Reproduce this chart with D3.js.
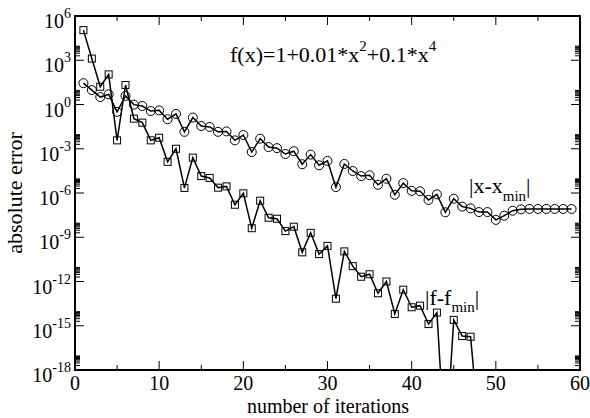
<!DOCTYPE html>
<html>
<head>
<meta charset="utf-8">
<script src="https://cdn.jsdelivr.net/npm/d3@7"></script>
<style>
  body { margin: 0; background: #fff; }
  svg { display: block; }
  text { font-family: 'Liberation Serif', 'Times New Roman', Times, 'DejaVu Serif', serif; fill: #000; }
</style>
</head>
<body>
<svg id="chart" width="590" height="418"></svg>
<script>
// iteration numbers
const iterX = [1, 2, 3, 4, 5, 6, 7, 8, 9, 10, 11, 12, 13, 14, 15, 16, 17, 18, 19, 20,
  21, 22, 23, 24, 25, 26, 27, 28, 29, 30, 31, 32, 33, 34, 35, 36, 37, 38, 39, 40,
  41, 42, 43, 44, 45, 46, 47, 48, 49, 50, 51, 52, 53, 54, 55, 56, 57, 58, 59];
const iterF = iterX.slice(0, 48);

// |x - x_min|
const errX = [28, 9.5, 3.2, 4.9, 0.32, 3.8, 0.98, 0.79, 0.36, 0.4,
  0.1, 0.23, 0.014, 0.13, 0.035, 0.03, 0.014, 0.015, 3.7e-3, 8.5e-3,
  6e-4, 4.8e-3, 1.3e-3, 1.1e-3, 4.4e-4, 6.8e-4, 8.9e-5, 4e-4, 7.6e-5, 1.5e-4,
  2.5e-6, 9.3e-5, 3.1e-5, 1.4e-5, 1.6e-5, 3.6e-6, 9.3e-6, 7.6e-7, 4.7e-6, 1.4e-6,
  1.3e-6, 3.4e-7, 8.1e-7, 4.9e-8, 4.1e-7, 1.2e-7, 9.1e-8, 5.1e-8, 5.1e-8, 1.5e-8,
  2.9e-8, 6.3e-8, 7.8e-8, 8.3e-8, 8.3e-8, 8.3e-8, 8.3e-8, 8.3e-8, 8.3e-8];

// |f - f_min|
const errF = [1.1e5, 1.3e3, 16, 110, 3.7e-3, 21, 0.11, 0.059, 3.7e-3, 5.6e-3,
  1.3e-4, 1e-3, 2.2e-6, 2.5e-4, 1.4e-5, 1.05e-5, 2.3e-6, 2.8e-6, 1.6e-7, 9.5e-7,
  4.1e-9, 3e-7, 2.1e-8, 1.8e-8, 2.6e-9, 5.2e-9, 9.5e-11, 2e-9, 7.2e-11, 2.6e-10,
  6.8e-14, 1.1e-10, 1.1e-11, 2.1e-12, 3.1e-12, 1.6e-13, 1e-12, 6.3e-15, 2.8e-13, 1.8e-14,
  2.3e-14, 1.3e-15, 7.8e-15, 3e-24, 2.5e-15, 2e-16, 1.8e-16, 1e-22];

const xTicks = [0, 10, 20, 30, 40, 50, 60];
const xMinor = [5, 15, 25, 35, 45, 55];
const yExps  = [6, 3, 0, -3, -6, -9, -12, -15, -18];

const svg = d3.select('#chart');
const m = { left: 75, right: 580, top: 16, bottom: 370 };

const x = d3.scaleLinear().domain([0, 60]).range([m.left, m.right]);
const y = d3.scaleLog().domain([1e-18, 1e6]).range([m.bottom, m.top]);

// minor log ticks 2..9 above each major
const yMinor = yExps.flatMap((e) => [2, 3, 4, 5, 6, 7, 8, 9].map((k) => k * Math.pow(10, e)))
  .filter((v) => v < 1e6);

svg.append('clipPath')
    .attr('id', 'plot-clip')
  .append('rect')
    .attr('x', m.left)
    .attr('y', m.top)
    .attr('width', m.right - m.left)
    .attr('height', m.bottom - m.top);

// tick marks, all pointing inward
const ticks = svg.append('g')
    .attr('stroke', '#000')
    .attr('stroke-width', 1);

const xTickData = xTicks.map((v) => [v, 9]).concat(xMinor.map((v) => [v, 5]));

ticks.selectAll('.xb')
    .data(xTickData)
  .enter()
  .append('line')
    .attr('x1', ([v]) => x(v))
    .attr('x2', ([v]) => x(v))
    .attr('y1', m.bottom)
    .attr('y2', ([, len]) => m.bottom - len);

ticks.selectAll('.xt')
    .data(xTickData)
  .enter()
  .append('line')
    .attr('x1', ([v]) => x(v))
    .attr('x2', ([v]) => x(v))
    .attr('y1', m.top)
    .attr('y2', ([, len]) => m.top + len);

const yTickData = yExps.map((e) => [Math.pow(10, e), 9]).concat(yMinor.map((v) => [v, 5]));

ticks.selectAll('.yl')
    .data(yTickData)
  .enter()
  .append('line')
    .attr('x1', m.left)
    .attr('x2', ([, len]) => m.left + len)
    .attr('y1', ([v]) => y(v))
    .attr('y2', ([v]) => y(v));

ticks.selectAll('.yr')
    .data(yTickData)
  .enter()
  .append('line')
    .attr('x1', m.right)
    .attr('x2', ([, len]) => m.right - len)
    .attr('y1', ([v]) => y(v))
    .attr('y2', ([v]) => y(v));

// frame
svg.append('rect')
    .attr('x', m.left)
    .attr('y', m.top)
    .attr('width', m.right - m.left)
    .attr('height', m.bottom - m.top)
    .attr('fill', 'none')
    .attr('stroke', '#000')
    .attr('stroke-width', 2);

// tick labels
svg.append('g')
    .attr('font-size', 20)
  .selectAll('text')
    .data(xTicks)
  .enter()
  .append('text')
    .attr('x', (d) => x(d))
    .attr('y', 390)
    .attr('text-anchor', 'middle')
    .text((d) => d);

const yLabels = svg.append('g')
    .attr('font-size', 20)
  .selectAll('text')
    .data(yExps)
  .enter()
  .append('text')
    .attr('x', 71)
    .attr('y', (e) => y(Math.pow(10, e)) + 12)
    .attr('text-anchor', 'end');

yLabels.append('tspan').text('10');
yLabels.append('tspan')
    .attr('font-size', 14)
    .attr('dy', -10)
    .text((e) => e);

// axis titles
svg.append('text')
    .attr('x', 328)
    .attr('y', 413)
    .attr('text-anchor', 'middle')
    .attr('font-size', 20)
    .text('number of iterations');

svg.append('text')
    .attr('transform', `translate(22, ${(m.top + m.bottom) / 2}) rotate(-90)`)
    .attr('text-anchor', 'middle')
    .attr('font-size', 22)
    .text('absolute error');

// series
const plot = svg.append('g')
    .attr('clip-path', 'url(#plot-clip)');

const line = d3.line()
    .x((d) => x(d[0]))
    .y((d) => y(d[1]));

const ptsX = iterX.map((it, i) => [it, errX[i]]);
const ptsF = iterF.map((it, i) => [it, errF[i]]);

plot.append('path')
    .datum(ptsF)
    .attr('d', line)
    .attr('fill', 'none')
    .attr('stroke', '#000')
    .attr('stroke-width', 1.5);

plot.append('path')
    .datum(ptsX)
    .attr('d', line)
    .attr('fill', 'none')
    .attr('stroke', '#000')
    .attr('stroke-width', 1.5);

plot.selectAll('.sq')
    .data(ptsF.filter(([, v]) => v >= 1e-18))
  .enter()
  .append('rect')
    .attr('x', (d) => x(d[0]) - 3.5)
    .attr('y', (d) => y(d[1]) - 3.5)
    .attr('width', 7)
    .attr('height', 7)
    .attr('fill', 'none')
    .attr('stroke', '#000')
    .attr('stroke-width', 1);

plot.selectAll('.ci')
    .data(ptsX)
  .enter()
  .append('circle')
    .attr('cx', (d) => x(d[0]))
    .attr('cy', (d) => y(d[1]))
    .attr('r', 4.5)
    .attr('fill', 'none')
    .attr('stroke', '#000')
    .attr('stroke-width', 1);

// annotations
const fx = svg.append('text')
    .attr('x', 230)
    .attr('y', 62)
    .attr('font-size', 22);
fx.append('tspan').text('f(x)=1+0.01*x');
fx.append('tspan').attr('font-size', 15).attr('dy', -11).text('2');
fx.append('tspan').attr('dy', 11).text('+0.1*x');
fx.append('tspan').attr('font-size', 15).attr('dy', -11).text('4');

const lx = svg.append('text')
    .attr('x', 469)
    .attr('y', 193)
    .attr('font-size', 22);
lx.append('tspan').text('|x-x');
lx.append('tspan').attr('font-size', 15).attr('dy', 8).text('min');
lx.append('tspan').attr('dy', -8).text('|');

const lf = svg.append('text')
    .attr('x', 425)
    .attr('y', 305)
    .attr('font-size', 22);
lf.append('tspan').text('|f-f');
lf.append('tspan').attr('font-size', 15).attr('dy', 7).text('min');
lf.append('tspan').attr('dy', -7).text('|');
</script>
</body>
</html>
